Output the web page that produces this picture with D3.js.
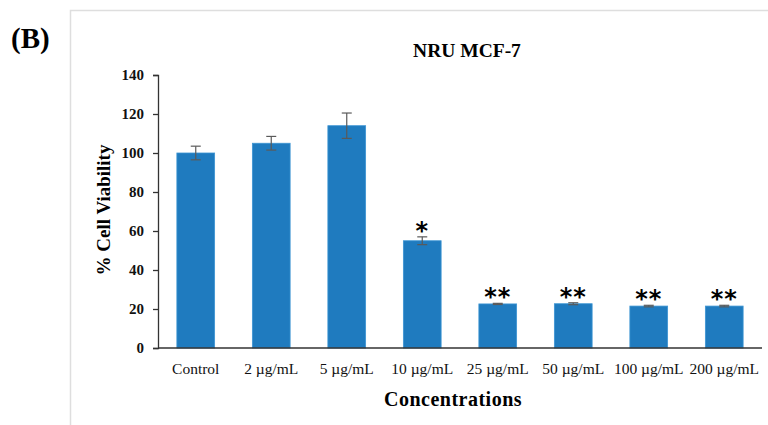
<!DOCTYPE html>
<html>
<head>
<meta charset="utf-8">
<script src="https://cdn.jsdelivr.net/npm/d3@7"></script>
<style>
  body { margin: 0; background: #fff; }
  svg { display: block; }
</style>
</head>
<body>
<div id="chart"></div>
<script>
// data
const categories = ["Control", "2 \u00b5g/mL", "5 \u00b5g/mL", "10 \u00b5g/mL", "25 \u00b5g/mL", "50 \u00b5g/mL", "100 \u00b5g/mL", "200 \u00b5g/mL"];
const viability = [100, 105, 114, 55, 22.6, 22.7, 21.5, 21.5];
const errors = [3.5, 3.5, 6.5, 2, 0.3, 0.5, 0.4, 0.4];
const marks = ["", "", "", "*", "**", "**", "**", "**"];
const yTicks = [0, 20, 40, 60, 80, 100, 120, 140];

const width = 768, height = 425;
const margin = { top: 75, right: 6, bottom: 77, left: 158 };

const svg = d3.select("#chart")
    .append("svg")
    .attr("width", width)
    .attr("height", height);

// light frame round the chart area
svg.append("rect")
    .attr("x", 70.5)
    .attr("y", 10.5)
    .attr("width", width)
    .attr("height", height)
    .attr("fill", "none")
    .attr("stroke", "#dedede")
    .attr("stroke-width", 1.5);

svg.append("text")
    .text("(B)")
    .attr("x", 11)
    .attr("y", 48)
    .style("font-family", "'Liberation Serif', serif")
    .style("font-weight", "bold")
    .style("font-size", "29px");

var xScale = d3
    .scaleBand()
    .domain(categories)
    .range([margin.left, width - margin.right])
    .paddingInner(0.5)
    .paddingOuter(0.25);

var yScale = d3
    .scaleLinear()
    .domain([0, 140])
    .range([height - margin.bottom, margin.top]);

const serif = "'Liberation Serif', 'DejaVu Serif', serif";

// bars
svg.append("g")
    .selectAll("rect")
    .data(viability)
    .enter()
    .append("rect")
    .attr("x", (d, i) => xScale(categories[i]))
    .attr("y", d => yScale(d))
    .attr("width", xScale.bandwidth())
    .attr("height", d => yScale(0) - yScale(d))
    .attr("fill", "#1f7bbf")
    .attr("stroke", "#3d95d3")
    .attr("stroke-width", 0.8);

// error bars
const eb = svg.append("g")
    .attr("stroke", "#5a5a5a")
    .attr("stroke-width", 1.2);

viability.forEach((v, i) => {
    const cx = xScale(categories[i]) + xScale.bandwidth() / 2;
    const y1 = yScale(v - errors[i]);
    const y2 = yScale(v + errors[i]);
    eb.append("line").attr("x1", cx).attr("x2", cx).attr("y1", y1).attr("y2", y2);
    eb.append("line").attr("x1", cx - 5).attr("x2", cx + 5).attr("y1", y1).attr("y2", y1);
    eb.append("line").attr("x1", cx - 5).attr("x2", cx + 5).attr("y1", y2).attr("y2", y2);
});

// significance stars
svg.append("g")
    .selectAll("text")
    .data(marks)
    .enter()
    .append("text")
    .text(d => d)
    .attr("x", (d, i) => xScale(categories[i]) + xScale.bandwidth() / 2)
    .attr("y", (d, i) => yScale(viability[i] + errors[i]) + 2)
    .attr("text-anchor", "middle")
    .style("font-family", "'DejaVu Sans', sans-serif")
    .style("font-weight", "bold")
    .style("font-size", "24px")
    .style("letter-spacing", "1px");

// y axis
var yAxis = d3.axisLeft(yScale)
    .tickValues(yTicks)
    .tickSize(5)
    .tickPadding(9);

var yAxisEl = svg.append("g")
    .attr("transform", `translate(${margin.left},0)`)
    .call(yAxis);

yAxisEl.select(".domain").attr("stroke", "#333").attr("stroke-width", 1.3);
yAxisEl.selectAll(".tick line").attr("stroke", "#333").attr("stroke-width", 1.3);
yAxisEl.selectAll(".tick text")
    .style("font-family", serif)
    .style("font-weight", "bold")
    .style("font-size", "15px")
    .attr("fill", "#111");

// x axis
var xAxis = d3.axisBottom(xScale)
    .tickSize(0)
    .tickPadding(15);

var xAxisEl = svg.append("g")
    .attr("transform", `translate(0, ${height - margin.bottom})`)
    .call(xAxis);

xAxisEl.select(".domain")
    .attr("d", `M${margin.left},0H${width - margin.right}`)
    .attr("stroke", "#333")
    .attr("stroke-width", 1.3);
xAxisEl.selectAll(".tick text")
    .style("font-family", serif)
    .style("font-size", "15.5px")
    .attr("fill", "#111");

svg.append("text")
    .text("Concentrations")
    .attr("x", 453)
    .attr("y", 406)
    .attr("text-anchor", "middle")
    .style("font-family", serif)
    .style("font-weight", "bold")
    .style("font-size", "20px")
    .style("letter-spacing", "0.5px");

svg.append("text")
    .text("% Cell Viability")
    .attr("transform", "rotate(-90)")
    .attr("x", -210)
    .attr("y", 110)
    .attr("text-anchor", "middle")
    .style("font-family", serif)
    .style("font-weight", "bold")
    .style("font-size", "19px");

svg.append("text")
    .text("NRU MCF-7")
    .attr("x", 467)
    .attr("y", 57)
    .attr("text-anchor", "middle")
    .style("font-family", serif)
    .style("font-weight", "bold")
    .style("font-size", "19.5px");
</script>
</body>
</html>
